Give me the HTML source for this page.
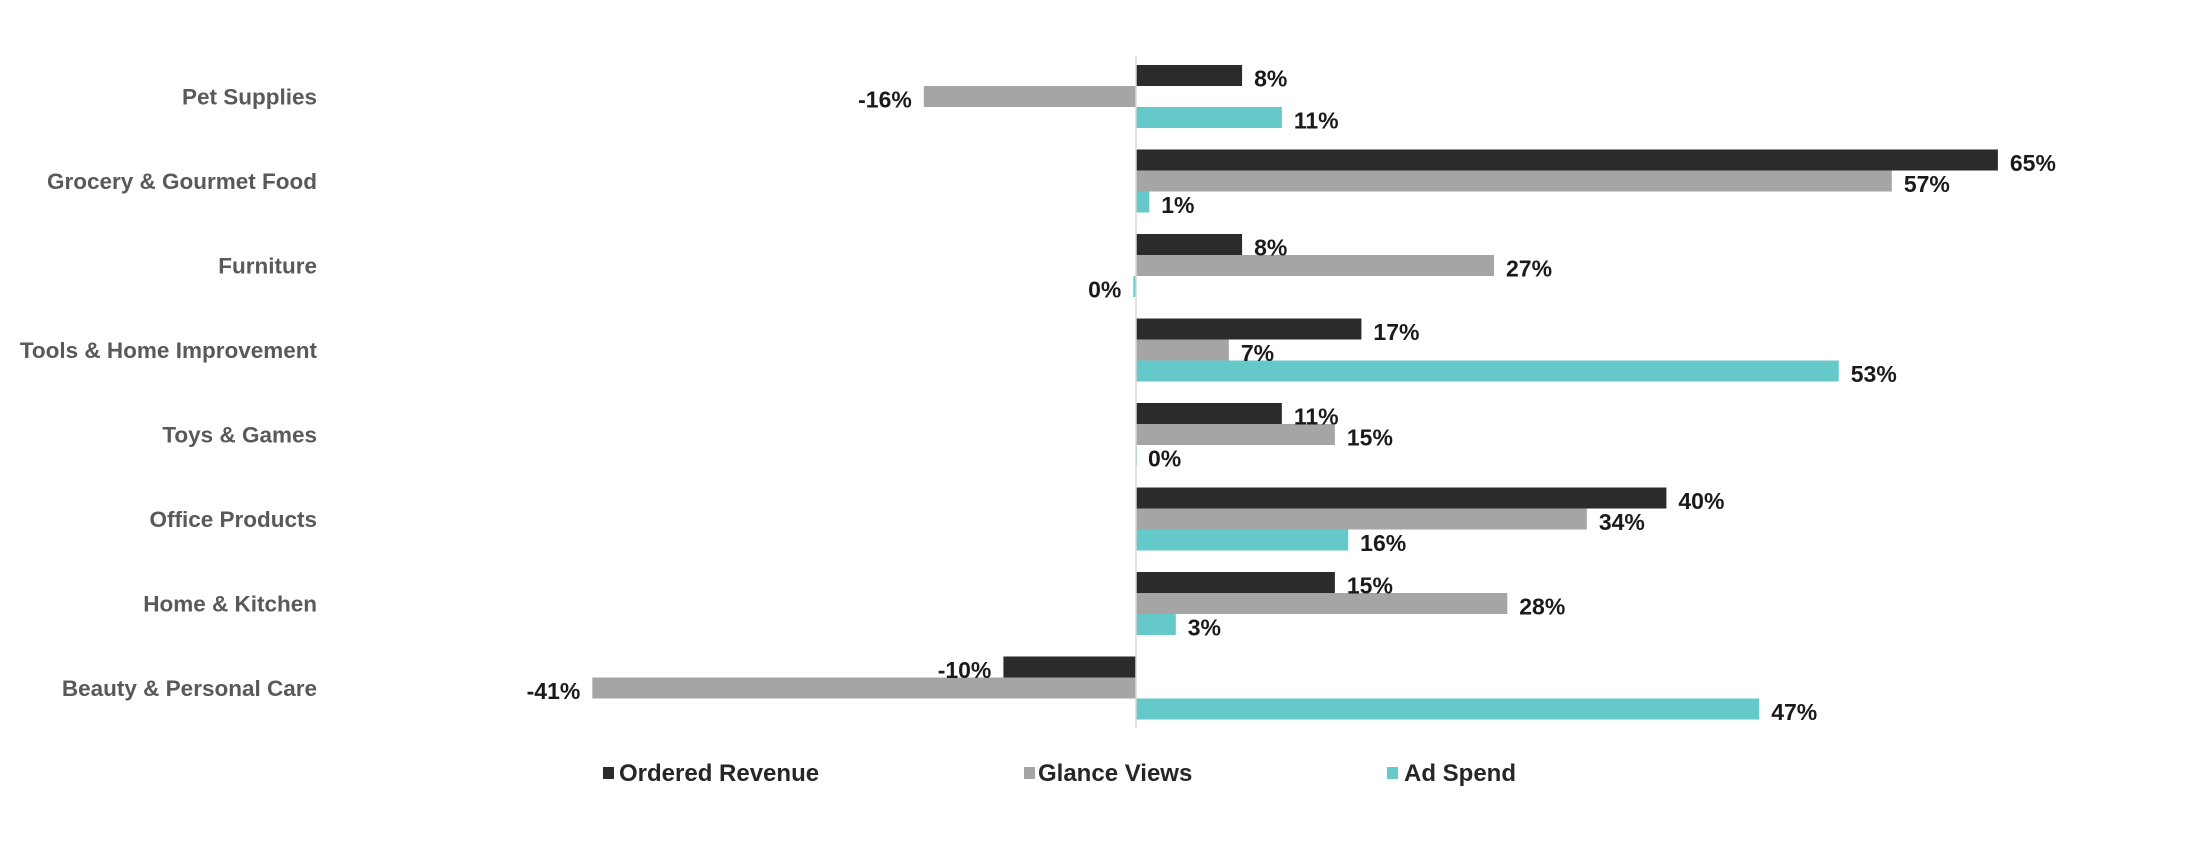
<!DOCTYPE html>
<html><head><meta charset="utf-8">
<style>
html,body{margin:0;padding:0;background:#fff;}
svg{display:block;font-family:"Liberation Sans",Arial,sans-serif;}
</style></head>
<body>
<svg id="chart" width="2208" height="862" viewBox="0 0 2208 862" xmlns="http://www.w3.org/2000/svg">
<g id="cats"></g>
<g id="bars"></g>
<g id="vals"></g>
<line id="axis" x1="1136" x2="1136" y1="56" y2="728" stroke="#d9d9d9" stroke-width="1.5"/>
<g>
 <rect x="603" y="767" width="11" height="12" fill="#2b2b2b"/>
 <text x="619" y="781" font-size="24" font-weight="bold" fill="#262626">Ordered Revenue</text>
 <rect x="1024" y="767" width="11" height="12" fill="#a5a5a5"/>
 <text x="1038" y="781" font-size="24" font-weight="bold" fill="#262626">Glance Views</text>
 <rect x="1387" y="767" width="11" height="12" fill="#66c9c9"/>
 <text x="1404" y="781" font-size="24" font-weight="bold" fill="#262626">Ad Spend</text>
</g>
</svg>
<script>
const categories = ["Pet Supplies","Grocery & Gourmet Food","Furniture","Tools & Home Improvement","Toys & Games","Office Products","Home & Kitchen","Beauty & Personal Care"];
const orderedRevenue = [8,65,8,17,11,40,15,-10];
const glanceViews = [-16,57,27,7,15,34,28,-41];
const adSpend = [11,1,-0.2,53,0,16,3,47];
const seriesNames = ["ordered-revenue","glance-views","ad-spend"];
const seriesColors = ["#2b2b2b","#a5a5a5","#66c9c9"];

const NS="http://www.w3.org/2000/svg";
const x0=1136, pxPer=13.26, top0=65, groupH=84.5, barH=21;
function xs(v){return x0+v*pxPer;}
function gy(i){return top0+i*groupH;}
const cats=document.getElementById('cats'),bars=document.getElementById('bars'),vals=document.getElementById('vals');
const series=[orderedRevenue,glanceViews,adSpend];
categories.forEach((c,i)=>{
  const t=document.createElementNS(NS,'text');
  
  
  t.setAttribute('x',317);t.setAttribute('y',gy(i)+barH*1.5+8);
  t.setAttribute('text-anchor','end');t.setAttribute('font-size','22.5');
  t.setAttribute('font-weight','bold');t.setAttribute('fill','#595959');
  t.textContent=c;cats.appendChild(t);
  series.forEach((s,k)=>{
    const v=s[i];const y=gy(i)+k*barH;
    const r=document.createElementNS(NS,'rect');
    
    
    const xa=Math.min(xs(0),xs(v)),w=Math.abs(xs(v)-xs(0));
    r.setAttribute('x',xa);r.setAttribute('y',y);r.setAttribute('width',Math.max(w,1));r.setAttribute('height',barH);
    r.setAttribute('fill',seriesColors[k]);bars.appendChild(r);
    const l=document.createElementNS(NS,'text');
    
    
    const neg=v<0;
    l.setAttribute('x',neg?xs(v)-12:xs(v)+12);
    l.setAttribute('text-anchor',neg?'end':'start');
    l.setAttribute('y',y+barH/2+11);
    l.setAttribute('font-size','23');l.setAttribute('font-weight','bold');l.setAttribute('fill','#1a1a1a');
    l.textContent=Math.round(v)+'%';
    if(l.textContent==='-0%')l.textContent='0%';
    vals.appendChild(l);
  });
});
</script>
</body></html>
